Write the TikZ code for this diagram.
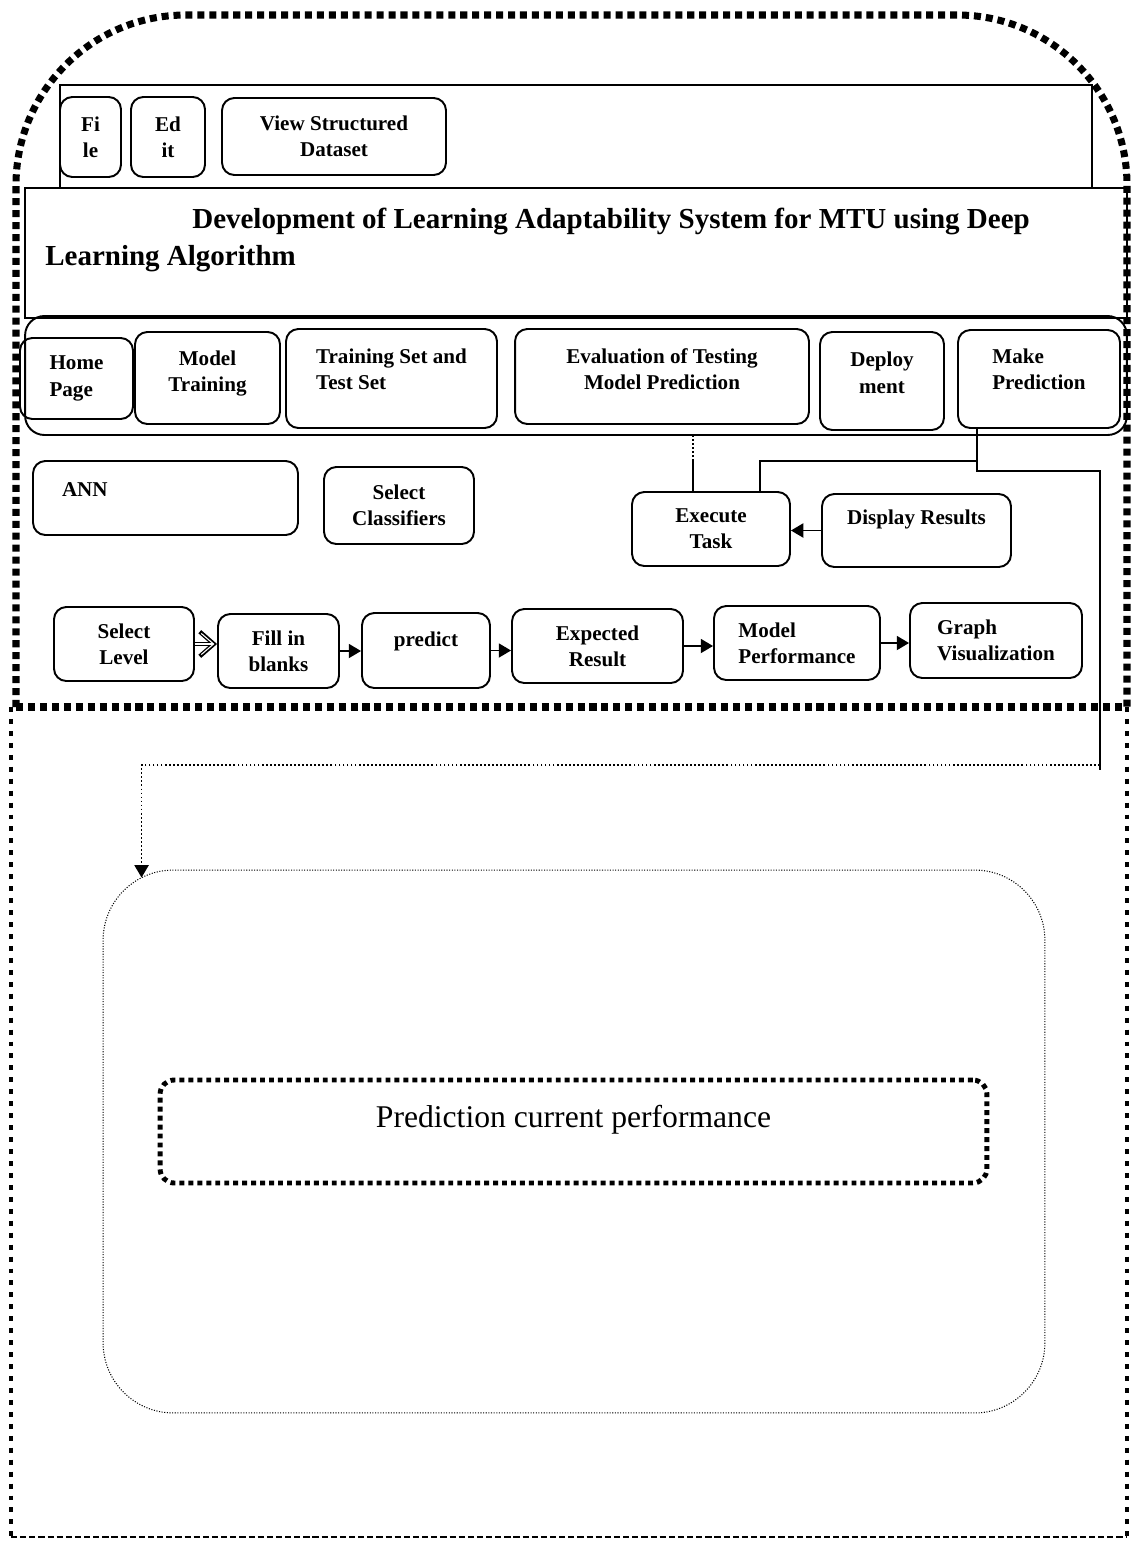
\documentclass[tikz,border=0pt]{standalone}
\usepackage{fontspec}
\setmainfont{Liberation Serif}
\usetikzlibrary{arrows.meta,positioning}

\begin{document}
\begin{tikzpicture}[
  x=0.02cm, y=-0.02cm,
  >={Triangle[length=7pt,width=8pt]},
  btn/.style={draw,line width=1.1pt,rounded corners=7pt,align=center,inner sep=2pt,
    font=\bfseries\fontsize{12}{15}\selectfont},
  bar/.style={draw,line width=1.1pt,inner sep=0pt},
  wire/.style={line width=1pt},
  dots/.style={line width=1pt,dash pattern=on 1pt off 1.3pt},
  frametop/.style={line width=4pt,dash pattern=on 4pt off 2.8pt},
  frameside/.style={line width=2.8pt,dash pattern=on 2.8pt off 4pt},
  framebase/.style={line width=1.2pt,dash pattern=on 3.5pt off 1.7pt}
]
  \useasboundingbox (0,0) rectangle (1139,1542);

  % outer frame
  \draw[frametop,rounded corners=3.4cm] (16,707) -- (16,15) -- (1127,15) -- (1127,707);
  \draw[frametop] (16,707) -- (1127,707);
  \draw[frameside] (11,707) -- (11,1537);
  \draw[frameside] (1127,707) -- (1127,1537);
  \draw[framebase] (11,1537) -- (1127,1537);

  % menu bar and title
  \node[bar,minimum width=20.64cm,minimum height=2.06cm] (menubar) at (576,136.5) {};
  \node[bar,minimum width=22.04cm,minimum height=2.6cm] (titlebox) at (576,253) {};
  \node[btn,minimum width=1.22cm,minimum height=1.6cm] (file) at (90.5,137) {Fi\\le};
  \node[btn,minimum width=1.48cm,minimum height=1.6cm] (edit) at (168,137) {Ed\\it};
  \node[btn,minimum width=4.48cm,minimum height=1.54cm] (view) at (334,136.5) {View Structured\\Dataset};
  \node[anchor=west,align=left,inner sep=0pt,font=\bfseries\fontsize{16.5}{21.5}\selectfont] (title) at (45,240)
    {\hspace*{2.94cm}Development of Learning Adaptability System for MTU using \mbox{Deep}\\Learning Algorithm};

  % navigation
  \node[draw,line width=1.1pt,rounded corners=11pt,minimum width=22.04cm,minimum height=2.38cm] (nav) at (576,375.5) {};
  \node[btn,align=left,minimum width=2.26cm,minimum height=1.62cm] (home) at (76.5,378.5) {Home\\Page};
  \node[btn,text depth=8pt,minimum width=2.9cm,minimum height=1.84cm] (mtrain) at (207.5,378) {Model\\Training};
  \node[btn,align=left,text depth=10.8pt,minimum width=4.22cm,minimum height=1.98cm] (trainset) at (391.5,378.5) {Training Set and\\Test Set};
  \node[btn,text depth=8.6pt,minimum width=5.88cm,minimum height=1.9cm] (evaltest) at (662,376.5) {Evaluation of Testing\\Model Prediction};
  \node[btn,text depth=9.6pt,minimum width=2.48cm,minimum height=1.96cm] (deploy) at (882,381) {Deploy\\ment};
  \node[btn,align=left,text depth=11.4pt,minimum width=3.24cm,minimum height=1.96cm] (mkpred) at (1039,379) {Make\\Prediction};

  % middle row
  \node[btn,align=left,text width=4.14cm,text depth=10pt,minimum width=5.3cm,minimum height=1.48cm] (ann) at (165.5,498) {ANN};
  \node[btn,minimum width=3cm,minimum height=1.54cm] (selcls) at (399,505.5) {Select\\Classifiers};
  \node[btn,minimum width=3.16cm,minimum height=1.48cm] (exec) at (711,529) {Execute\\Task};
  \node[btn,text depth=15pt,minimum width=3.78cm,minimum height=1.46cm] (display) at (916.5,530.5) {Display Results};

  % bottom row
  \node[btn,minimum width=2.8cm,minimum height=1.48cm] (sellevel) at (124,644) {Select\\Level};
  \node[btn,minimum width=2.42cm,minimum height=1.48cm] (fillb) at (278.5,651) {Fill in\\blanks};
  \node[btn,text depth=13.4pt,minimum width=2.56cm,minimum height=1.5cm] (predict) at (426,650.5) {predict};
  \node[btn,minimum width=3.42cm,minimum height=1.48cm] (expected) at (597.5,646) {Expected\\Result};
  \node[btn,align=left,minimum width=3.32cm,minimum height=1.48cm] (modelperf) at (797,643) {Model\\Performance};
  \node[btn,align=left,minimum width=3.44cm,minimum height=1.5cm] (graphvis) at (996,640.5) {Graph\\Visualization};

  % prediction panel
  \node[draw,line width=0.6pt,dash pattern=on 0.6pt off 0.9pt,rounded corners=40pt,minimum width=18.84cm,minimum height=10.86cm] (panel) at (574,1141.5) {};
  \node[draw,line width=2.8pt,dash pattern=on 2.8pt off 2.3pt,rounded corners=8pt,minimum width=16.54cm,minimum height=2.06cm,
    text depth=17pt,font=\fontsize{18}{22}\selectfont] (perf) at (573.5,1131.5) {Prediction current performance};

  % connectors
  \coordinate (tick) at ([xshift=-0.36cm]exec.north);
  \draw[wire] (tick) -- ++(0,-30) coordinate (tickmid);
  \draw[dots] (tickmid) -- (tickmid |- nav.south);
  \draw[wire] ([xshift=0.4cm]mkpred.south west) -- ++(0,32) -| ([xshift=0.98cm]exec.north);
  \draw[wire] ([xshift=0.4cm]mkpred.south west) -- ++(0,42) -| (1100,770) coordinate (drop);
  \draw[dots,->] ([yshift=0.1cm]drop) -| ([xshift=0.78cm,yshift=-0.16cm]panel.north west);
  \draw[wire,->] (display.west) -- (display.west -| exec.east);

  \draw[line width=2.4pt,-{Straight Barb[length=8pt,width=14pt]}] (sellevel.east) -- (sellevel.east -| fillb.west);
  \draw[white,line width=0.6pt,shorten >=1.5pt,-{Straight Barb[length=7pt,width=12pt]}] (sellevel.east) -- (sellevel.east -| fillb.west);
  \draw[wire,->] (fillb.east) -- (fillb.east -| predict.west);
  \draw[wire,->] (predict.east) -- (predict.east -| expected.west);
  \draw[wire,->] (expected.east) -- (expected.east -| modelperf.west);
  \draw[wire,->] (modelperf.east) -- (modelperf.east -| graphvis.west);
\end{tikzpicture}
\end{document}
